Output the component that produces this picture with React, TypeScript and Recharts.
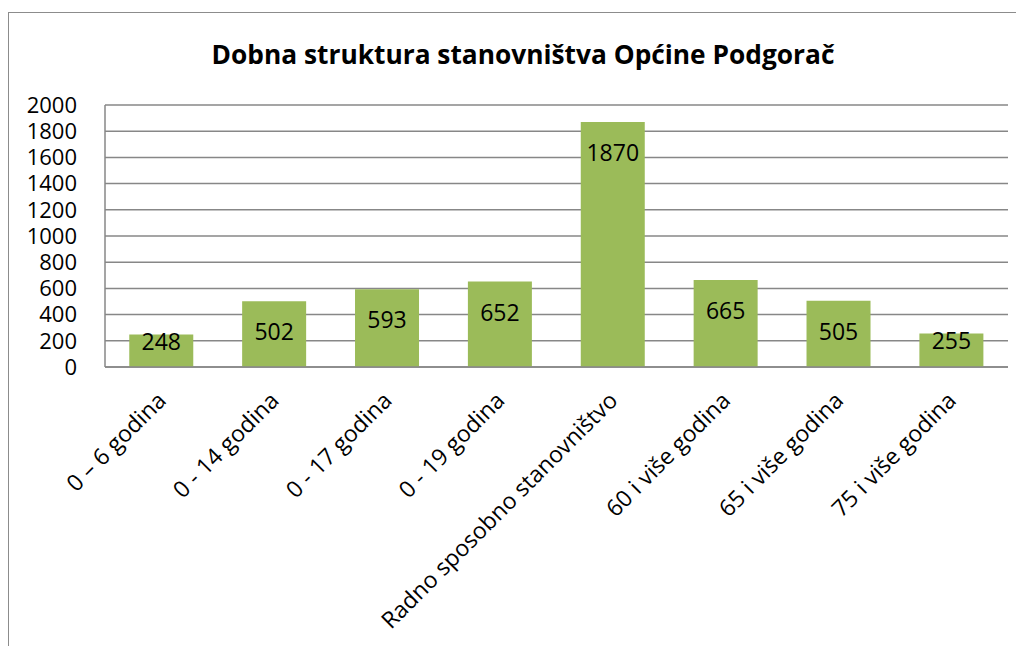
import React from 'react';
import { BarChart, Bar, XAxis, YAxis, CartesianGrid, LabelList } from 'recharts';

const categories = [
  '0 – 6 godina',
  '0 - 14 godina',
  '0 - 17 godina',
  '0 - 19 godina',
  'Radno sposobno stanovništvo',
  '60 i više godina',
  '65 i više godina',
  '75 i više godina',
];
const values = [248, 502, 593, 652, 1870, 665, 505, 255];
const yTicks = [0, 200, 400, 600, 800, 1000, 1200, 1400, 1600, 1800, 2000];
const title = 'Dobna struktura stanovništva Općine Podgorač';

const data = categories.map((c, i) => ({ name: c, value: values[i] }));

const FONT = '"Open Sans", sans-serif';
const GRID = '#878787';
const BAR = '#9BBB59';

const XTick = (props: any) => {
  const { x, y, payload } = props;
  return (
    <g transform={`translate(${x + 6},${y - 1})`}>
      <text
        transform="rotate(-45)"
        textAnchor="end"
        fontFamily={FONT}
        fontSize={23}
        fill="#000"
      >
        {payload.value}
      </text>
    </g>
  );
};

const ValueLabel = (props: any) => {
  const { x, y, width, height, value } = props;
  const off = height < 50 ? 6 : 30;
  return (
    <text
      x={x + width / 2}
      y={y + off}
      textAnchor="middle"
      dominantBaseline="central"
      fontFamily={FONT}
      fontSize={23}
      fill="#000"
    >
      {value}
    </text>
  );
};

export default function App() {
  return (
    <div style={{ position: 'relative', width: 1016, height: 638, overflow: 'hidden' }}>
      <style>{`body{overflow:hidden}`}</style>
      <div
        style={{
          position: 'absolute',
          left: 0,
          top: 4,
          width: 1040,
          height: 700,
          border: '1.5px solid #8c8c8c',
          boxSizing: 'border-box',
        }}
      />
      <div
        style={{
          position: 'absolute',
          left: 0,
          top: 28,
          width: 1030,
          textAlign: 'center',
          fontFamily: FONT,
          fontWeight: 700,
          fontSize: 26.3,
          lineHeight: '36px',
          color: '#000',
        }}
      >
        {title}
      </div>
      <div style={{ position: 'absolute', left: 0, top: 0 }}>
        <BarChart
          width={1016}
          height={638}
          data={data}
          margin={{ top: 97, right: 16, left: 0, bottom: 0 }}
          barCategoryGap="21.5%"
        >
          <CartesianGrid vertical={false} stroke={GRID} strokeWidth={1.5} />
          <XAxis
            dataKey="name"
            interval={0}
            height={279}
            tick={<XTick />}
            tickSize={0}
            tickMargin={36}
            axisLine={{ stroke: GRID, strokeWidth: 1.5 }}
            tickLine={false}
          />
          <YAxis
            width={97}
            domain={[0, 2000]}
            ticks={yTicks}
            interval={0}
            tickSize={0}
            tickMargin={28}
            axisLine={{ stroke: GRID, strokeWidth: 1.5 }}
            tickLine={false}
            tick={{ fill: '#000', fontSize: 22, fontFamily: FONT }}
          />
          <Bar dataKey="value" fill={BAR} isAnimationActive={false}>
            <LabelList dataKey="value" content={<ValueLabel />} />
          </Bar>
        </BarChart>
      </div>
    </div>
  );
}
